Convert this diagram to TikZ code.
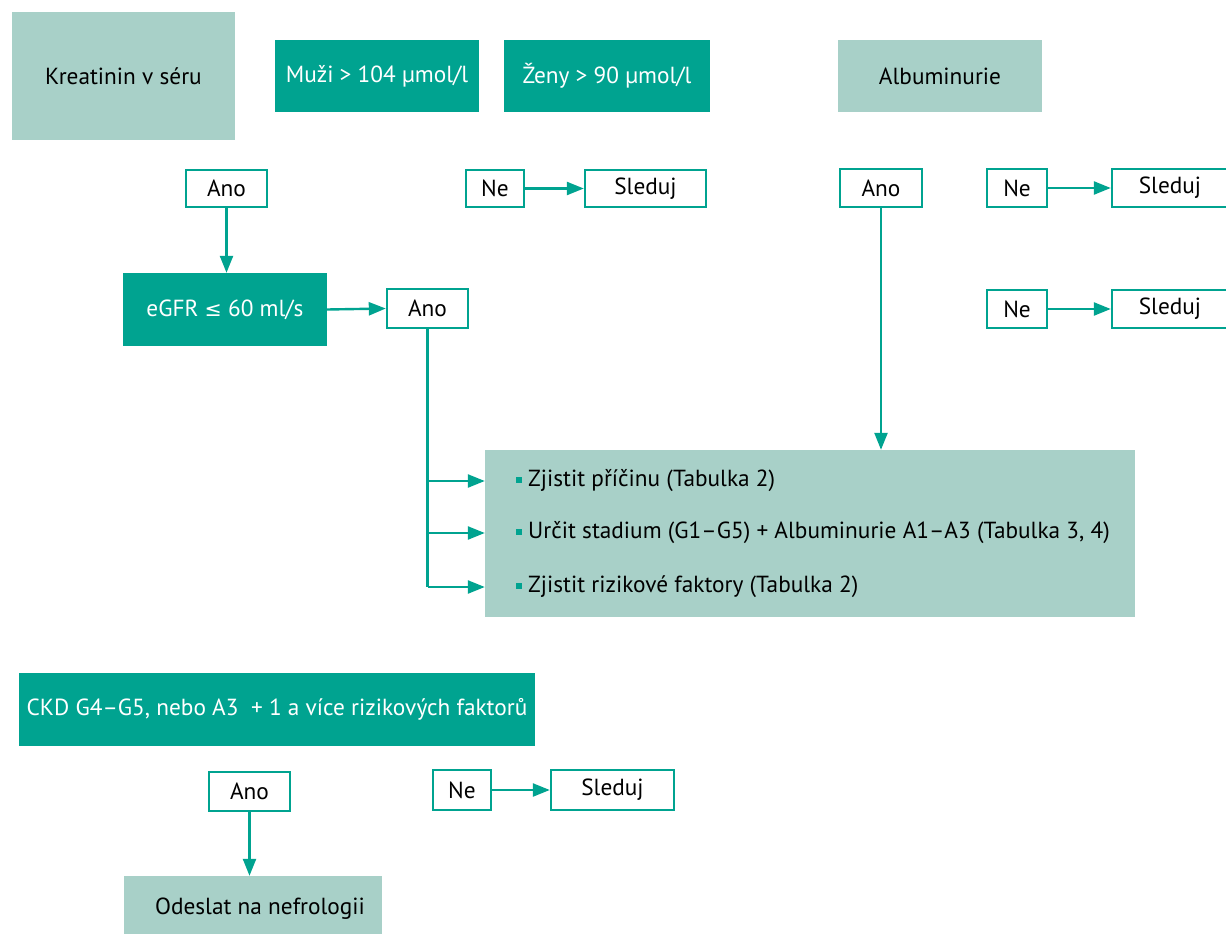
\documentclass[tikz,border=0pt]{standalone}
\usepackage{fontspec}
\setmainfont{PT Sans}
\newfontfamily\symf{DejaVu Sans}
\usetikzlibrary{arrows.meta}
\definecolor{teal1}{HTML}{00A390}
\definecolor{light1}{HTML}{A8D0C8}
\tikzset{
  base/.style={inner sep=0pt, align=center, font=\fontsize{23.3}{27}\selectfont},
  darkbox/.style={base, fill=teal1, text=white},
  lightbox/.style={base, fill=light1, text=black},
  outbox/.style={base, draw=teal1, line width=2.4pt, fill=white, text=black},
  conn/.style={draw=teal1, line width=2.4pt, -{Triangle[length=17pt,width=13pt]}},
  wire/.style={draw=teal1, line width=2.4pt},
}
\newcommand{\bul}{\raisebox{4pt}{\textcolor{teal1}{\rule{6pt}{6pt}}}\hspace{6pt}}
\begin{document}
\begin{tikzpicture}[x=1pt,y=-1pt]
\useasboundingbox (0,0) rectangle (1226,934);
\clip (0,0) rectangle (1226,934);
% top row
\node[lightbox, minimum width=223pt, minimum height=128pt] (kre) at (123.5,76) {Kreatinin v séru};
\node[darkbox, minimum width=204pt, minimum height=72pt] (muzi) at (377,76) {Muži > 104 µmol/l};
\node[darkbox, minimum width=206pt, minimum height=72pt] (zeny) at (607,76) {Ženy > 90 µmol/l};
\node[lightbox, minimum width=204pt, minimum height=72pt] (alb) at (940,76) {Albuminurie};
% second row
\node[outbox, minimum width=81pt, minimum height=37pt] (ano1) at (226.5,188.5) {Ano};
\node[outbox, minimum width=58pt, minimum height=37pt] (ne1) at (495,188.5) {Ne};
\node[outbox, minimum width=121pt, minimum height=37pt] (sl1) at (645.5,188.5) {Sleduj};
\node[outbox, minimum width=82pt, minimum height=38pt] (ano2) at (881,188) {Ano};
\node[outbox, minimum width=60pt, minimum height=38pt] (ne2) at (1017,188) {Ne};
\node[outbox, minimum width=116pt, minimum height=38pt] (sl2) at (1170,188) {Sleduj};
% third row
\node[darkbox, minimum width=204pt, minimum height=73pt] (egfr) at (225,309.5) {eGFR {\symf\fontsize{20.5}{24}\selectfont ≤} 60 ml/s};
\node[outbox, minimum width=81pt, minimum height=39pt] (ano3) at (427.5,308.5) {Ano};
\node[outbox, minimum width=60pt, minimum height=38pt] (ne3) at (1017,309) {Ne};
\node[outbox, minimum width=116pt, minimum height=38pt] (sl3) at (1170,309) {Sleduj};
% big box
\node[lightbox, minimum width=650pt, minimum height=167pt] (big) at (810,533.5) {};
\node[base, anchor=west] (it1) at (516,481) {\bul Zjistit příčinu (Tabulka 2)};
\node[base, anchor=west] (it2) at (516,533) {\bul Určit stadium (G1–G5) + Albuminurie A1–A3 (Tabulka 3, 4)};
\node[base, anchor=west] (it3) at (516,587) {\bul Zjistit rizikové faktory (Tabulka 2)};
% bottom
\node[darkbox, minimum width=516pt, minimum height=73pt] (ckd) at (277,709.5) {CKD G4–G5, nebo A3\ \ + 1 a více rizikových faktorů};
\node[outbox, minimum width=81pt, minimum height=39pt] (ano4) at (249.5,791.5) {Ano};
\node[outbox, minimum width=58pt, minimum height=40pt] (ne4) at (462,790) {Ne};
\node[outbox, minimum width=123pt, minimum height=40pt] (sl4) at (612.5,790) {Sleduj};
\node[lightbox, minimum width=258pt, minimum height=66pt] (ode) at (253,909) {\hspace{14pt}Odeslat na nefrologii};
% connectors
\draw[conn] (ano1.south) -- (ano1.south |- egfr.north);
\draw[conn] (ne1.east) -- (sl1.west);
\draw[conn] (ne2.east) -- (sl2.west);
\draw[conn] (ne3.east) -- (sl3.west);
\draw[conn] (egfr.east) -- (ano3.west);
\draw[conn] (ano2.south) -- (ano2.south |- big.north);
\draw[wire] (ano3.south) -- (ano3.south |- it3.west);
\draw[conn] (ano3.south |- it3.west) -- (big.west |- it3.west);
\draw[conn] (ano3.south |- it2.west) -- (big.west |- it2.west);
\draw[conn] (ano3.south |- it1.west) -- (big.west |- it1.west);
\draw[conn] (ne4.east) -- (sl4.west);
\draw[conn] (ano4.south) -- (ano4.south |- ode.north);
\end{tikzpicture}
\end{document}
